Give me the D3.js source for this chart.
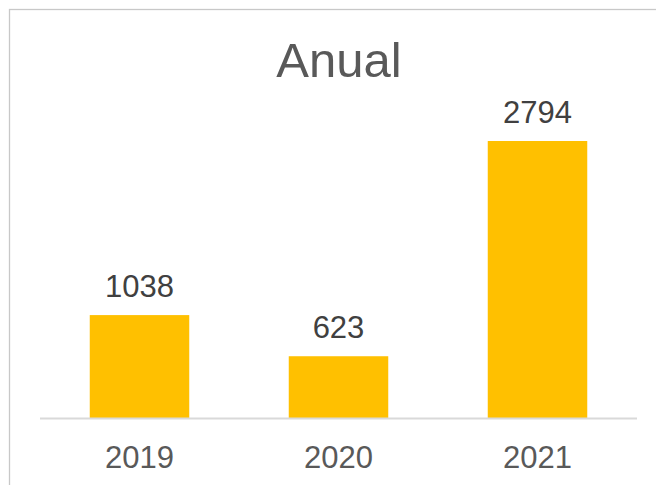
<!DOCTYPE html>
<html><head><meta charset="utf-8">
<script src="https://cdn.jsdelivr.net/npm/d3@7"></script>
<style>body{margin:0;background:#fff;overflow:hidden}svg{display:block}</style>
</head><body>
<script>
const title = "Anual";
const categories = ["2019", "2020", "2021"];
const values = [1038, 623, 2794];

const W = 656, H = 485;
const svg = d3.select("body").append("svg").attr("width", W).attr("height", H);
svg.append("rect").attr("x", 9.5).attr("y", 9.5).attr("width", 700).attr("height", 600)
  .attr("fill", "#fff").attr("stroke", "#C8C8C8").attr("stroke-width", 1.3);

const x = d3.scaleBand().domain(categories).range([40, 637]).paddingInner(0.5).paddingOuter(0.25);
const y = d3.scaleLinear().domain([0, 2794]).range([418, 141]);
const font = "'Liberation Sans', Arial, sans-serif";

svg.append("text").attr("x", 339).attr("y", 77).attr("text-anchor", "middle")
  .attr("font-family", font).attr("font-size", 49).attr("fill", "#595959").text(title);

svg.selectAll("rect.bar").data(values).join("rect").attr("class", "bar")
  .attr("x", (d, i) => x(categories[i])).attr("width", x.bandwidth())
  .attr("y", d => y(d)).attr("height", d => y(0) - y(d)).attr("fill", "#FFC000");

svg.selectAll("text.val").data(values).join("text").attr("class", "val")
  .attr("x", (d, i) => x(categories[i]) + x.bandwidth() / 2).attr("y", d => y(d) - 18)
  .attr("text-anchor", "middle").attr("font-family", font).attr("font-size", 31)
  .attr("fill", "#404040").text(d => d);

const ax = svg.append("g").attr("transform", `translate(0,${y(0)})`).call(d3.axisBottom(x).tickSize(0).tickPadding(0));
ax.select(".domain").attr("stroke", "#D9D9D9").attr("stroke-width", 2).attr("d", "M40,0.5H637");
ax.selectAll("text").attr("font-family", font).attr("font-size", 31).attr("fill", "#595959")
  .attr("dy", null).attr("y", 50);
</script>
</body></html>
